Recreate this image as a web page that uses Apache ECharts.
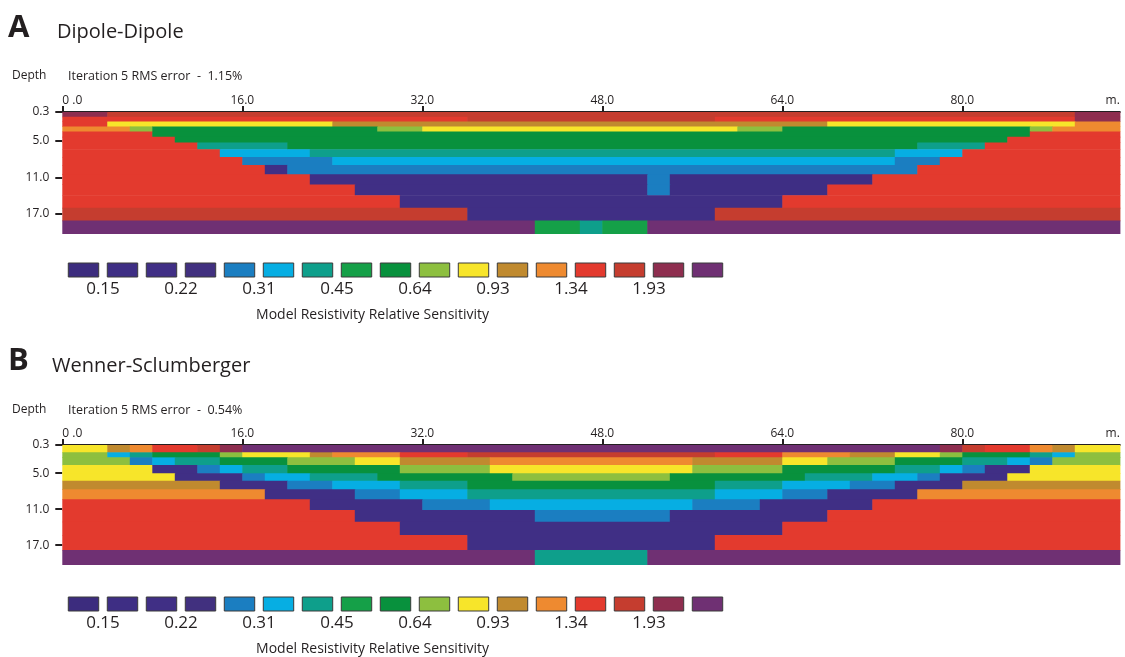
<!DOCTYPE html>
<html>
<head>
<meta charset="utf-8">
<script src="https://cdn.jsdelivr.net/npm/echarts@6/dist/echarts.min.js"></script>
<style>
  html, body { margin: 0; padding: 0; background: #fff; }
  #main { width: 1125px; height: 657px; }
</style>
</head>
<body>
<div id="main"></div>
<script>
var dom = document.getElementById("main");
var myChart = echarts.init(dom);

// legend colours, low -> high sensitivity
var palette = ['#3c2c7e', '#3e2e84', '#402f85', '#41307f', '#1b7ec1', '#06aee3', '#0e9f8b',
    '#15a048', '#08913d', '#8dbf3f', '#f7e52a', '#c08a2f', '#ee8a30', '#e33a2e',
    '#c53d2f', '#8e2e4f', '#6f3073'];
var sensLabels = ['0.15', '0.22', '0.31', '0.45', '0.64', '0.93', '1.34', '1.93'];
var distTicks = [0, 16, 32, 48, 64, 80];
var depthTicks = [0.3, 5.0, 11.0, 17.0];

// layer boundaries (m)
var depthA = [0.3, 1.07, 1.84, 2.66, 3.49, 4.37, 5.30, 6.40, 7.66, 8.98, 10.52, 12.17, 13.93, 16.01, 18.10, 20.3];
var depthB = [0.3, 1.52, 2.36, 3.63, 5.02, 6.25, 7.69, 9.36, 11.13, 13.08, 15.3, 17.8, 20.3];

// each layer: runs of [colour index, end x]
var rowsA = [
    [[15, 4], [14, 90], [15, 94]],
    [[13, 36], [14, 58], [13, 90], [15, 94]],
    [[13, 4], [10, 24], [11, 68], [10, 90], [12, 94]],
    [[12, 6], [9, 8], [8, 28], [9, 32], [10, 60], [9, 64], [8, 86], [9, 88], [12, 94]],
    [[13, 8], [8, 86], [13, 94]],
    [[13, 10], [8, 84], [13, 94]],
    [[13, 12], [6, 20], [8, 76], [6, 82], [13, 94]],
    [[13, 14], [5, 22], [6, 74], [5, 80], [13, 94]],
    [[13, 16], [4, 24], [5, 74], [4, 78], [13, 94]],
    [[13, 18], [2, 20], [4, 76], [13, 94]],
    [[13, 22], [2, 52], [4, 54], [1, 72], [13, 94]],
    [[13, 26], [2, 52], [4, 54], [1, 68], [13, 94]],
    [[13, 30], [2, 64], [13, 94]],
    [[14, 36], [2, 58], [14, 94]],
    [[16, 42], [7, 46], [6, 48], [7, 52], [16, 94]]
];
var rowsB = [
    [[10, 4], [11, 6], [12, 8], [13, 12], [14, 14], [15, 16], [16, 78], [15, 80], [14, 82], [13, 86], [12, 88], [11, 90], [10, 94]],
    [[9, 4], [5, 6], [6, 8], [8, 14], [9, 16], [10, 22], [11, 24], [12, 30], [13, 36], [14, 58], [13, 64], [12, 70], [11, 74], [10, 78], [9, 80], [8, 86], [6, 88], [5, 90], [9, 94]],
    [[9, 6], [4, 8], [5, 10], [6, 14], [8, 20], [9, 26], [10, 30], [11, 38], [12, 56], [11, 64], [10, 68], [9, 74], [8, 80], [6, 84], [5, 86], [4, 88], [9, 94]],
    [[10, 8], [2, 12], [4, 14], [5, 16], [6, 20], [8, 30], [9, 38], [10, 56], [9, 64], [8, 74], [6, 78], [5, 80], [4, 82], [2, 86], [10, 94]],
    [[10, 10], [2, 16], [4, 18], [5, 22], [6, 28], [8, 40], [9, 54], [8, 66], [6, 72], [5, 76], [4, 78], [2, 84], [10, 94]],
    [[11, 14], [2, 20], [4, 24], [5, 30], [6, 36], [8, 58], [6, 64], [5, 70], [4, 74], [2, 80], [11, 94]],
    [[12, 18], [2, 26], [4, 30], [5, 36], [6, 58], [5, 64], [4, 68], [2, 76], [12, 94]],
    [[13, 22], [2, 32], [4, 38], [5, 56], [4, 62], [2, 72], [13, 94]],
    [[13, 26], [2, 42], [4, 54], [2, 68], [13, 94]],
    [[13, 30], [2, 64], [13, 94]],
    [[13, 36], [2, 58], [13, 94]],
    [[16, 42], [6, 52], [16, 94]]
];

function buildCells(rows, depths) {
    var out = [];
    for (var r = 0; r < rows.length; r++) {
        var x0 = 0;
        for (var k = 0; k < rows[r].length; k++) {
            out.push([x0, rows[r][k][1], depths[r], depths[r + 1], rows[r][k][0]]);
            x0 = rows[r][k][1];
        }
    }
    return out;
}

function renderCell(params, api) {
    var a = api.coord([api.value(0), api.value(2)]);
    var b = api.coord([api.value(1), api.value(3)]);
    return {
        type: 'rect',
        shape: {x: a[0], y: a[1], width: b[0] - a[0] + 0.6, height: b[1] - a[1] + 0.6},
        style: {fill: palette[api.value(4)]}
    };
}

function renderSwatch(params, api) {
    var i = api.value(0);
    var a = api.coord([i + 0.11, 1]);
    var b = api.coord([i + 0.89, 0]);
    return {
        type: 'rect',
        shape: {x: a[0], y: a[1], width: b[0] - a[0], height: b[1] - a[1]},
        style: {fill: palette[i], stroke: '#3a3a3a', lineWidth: 1}
    };
}

var swatchData = palette.map(function (c, i) { return [i]; });
var labelPos = sensLabels.map(function (s, i) { return 2 * i + 1; });

var font = "'Open Sans', 'DejaVu Sans', sans-serif";
var ink = '#231f20';

function distAxis(gridIndex) {
    return {
        type: 'value', gridIndex: gridIndex, position: 'top', min: 0, max: 94,
        axisLine: {lineStyle: {color: ink, width: 2}},
        axisTick: {customValues: distTicks, length: 6, lineStyle: {color: ink, width: 2}},
        axisLabel: {
            customValues: distTicks.concat([94]), margin: 5, color: ink, fontSize: 12, fontFamily: font,
            alignMinLabel: 'left', alignMaxLabel: 'right',
            formatter: function (v) {
                if (v === 0) return '0 .0';
                if (v === 94) return 'm.';
                return v.toFixed(1);
            }
        },
        splitLine: {show: false}
    };
}

function depthAxis(gridIndex) {
    return {
        type: 'value', gridIndex: gridIndex, inverse: true, min: 0.3, max: 20.3,
        axisLine: {show: false},
        axisTick: {show: true, customValues: depthTicks, length: 7, lineStyle: {color: ink, width: 2}},
        axisLabel: {
            customValues: depthTicks, margin: 13, color: ink, fontSize: 12, fontFamily: font,
            formatter: function (v) { return v.toFixed(1); }
        },
        splitLine: {show: false}
    };
}

function legendAxis(gridIndex) {
    return {
        type: 'value', gridIndex: gridIndex, min: 0, max: 17,
        axisLine: {show: false},
        axisTick: {show: false},
        axisLabel: {
            customValues: labelPos, margin: 4, color: ink, fontSize: 17, fontFamily: font,
            formatter: function (v) { return sensLabels[(v - 1) / 2]; }
        },
        splitLine: {show: false},
        name: 'Model Resistivity Relative Sensitivity',
        nameLocation: 'middle', nameGap: 31,
        nameTextStyle: {color: ink, fontSize: 14, fontFamily: font, padding: [0, 46, 0, 0]}
    };
}

function hiddenY(gridIndex) {
    return {type: 'value', gridIndex: gridIndex, min: 0, max: 1, show: false};
}

function headText(txt, left, top, size, bold) {
    return {
        text: txt, left: left, top: top, padding: 0,
        textStyle: {color: ink, fontSize: size, fontWeight: bold ? 'bold' : 'normal', fontFamily: font}
    };
}

option = {
    backgroundColor: '#ffffff',
    animation: false,
    title: [
        headText('A', 8, 13, 31, true),
        headText('Dipole-Dipole', 57, 22, 20),
        headText('Depth', 12, 70, 12),
        headText('Iteration 5 RMS error  -  1.15%', 68, 70, 12.5),
        headText('B', 8, 346, 31, true),
        headText('Wenner-Sclumberger', 52, 356, 20),
        headText('Depth', 12, 404, 12),
        headText('Iteration 5 RMS error  -  0.54%', 68, 404, 12.5)
    ],
    grid: [
        {left: 62.3, top: 112, width: 1057.5, height: 122},
        {left: 64, top: 263, width: 663, height: 14},
        {left: 62.3, top: 445, width: 1057.5, height: 120},
        {left: 64, top: 597, width: 663, height: 14}
    ],
    xAxis: [distAxis(0), legendAxis(1), distAxis(2), legendAxis(3)],
    yAxis: [depthAxis(0), hiddenY(1), depthAxis(2), hiddenY(3)],
    series: [
        {type: 'custom', xAxisIndex: 0, yAxisIndex: 0, renderItem: renderCell, clip: true,
            encode: {x: [0, 1], y: [2, 3]}, data: buildCells(rowsA, depthA)},
        {type: 'custom', xAxisIndex: 1, yAxisIndex: 1, renderItem: renderSwatch,
            encode: {x: 0}, data: swatchData},
        {type: 'custom', xAxisIndex: 2, yAxisIndex: 2, renderItem: renderCell, clip: true,
            encode: {x: [0, 1], y: [2, 3]}, data: buildCells(rowsB, depthB)},
        {type: 'custom', xAxisIndex: 3, yAxisIndex: 3, renderItem: renderSwatch,
            encode: {x: 0}, data: swatchData}
    ]
};
myChart.setOption(option);
</script>
</body>
</html>
